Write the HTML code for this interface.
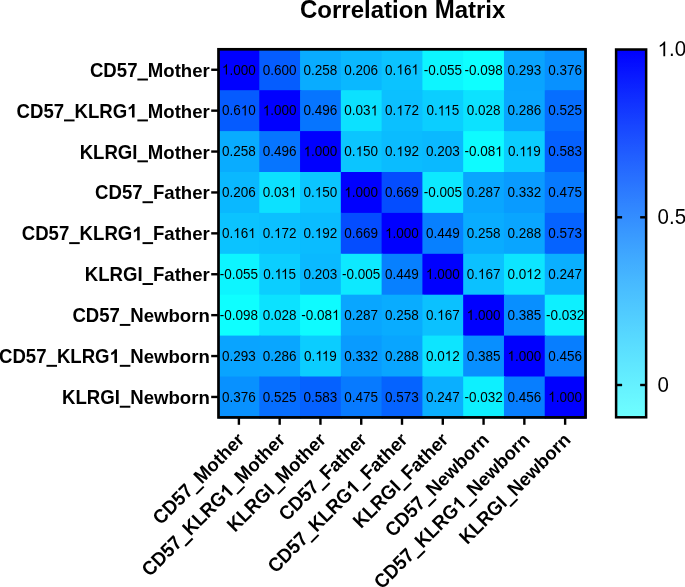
<!DOCTYPE html>
<html><head><meta charset="utf-8"><style>
html,body{margin:0;padding:0;background:#fff;}
body{width:685px;height:587px;overflow:hidden;}
svg{display:block;will-change:transform;}
text{font-family:"Liberation Sans",sans-serif;fill:#000;}
.n{font-size:13.5px;}
.l{font-size:18.6px;font-weight:bold;}
.c{font-size:20.5px;}
.t{font-size:24px;font-weight:bold;}
</style></head><body>
<svg width="685" height="587" viewBox="0 0 685 587">
<defs><path id="o1" d="M763 0H583V-1147Q518 -1085 415 -1024.5Q312 -964 223 -931V-1105Q373 -1176 485.5 -1276Q598 -1376 647 -1472H763Z"/><path id="o1b" d="M815 0H534V-1059Q380 -915 171 -846V-1101Q281 -1137 400.5 -1230Q520 -1323 575 -1466H815Z"/><linearGradient id="g" x1="0" y1="0" x2="0" y2="1"><stop offset="0" stop-color="#0000ff"/><stop offset="1" stop-color="#0effff"/></linearGradient><linearGradient id="w" x1="0" y1="0" x2="0" y2="1"><stop offset="0" stop-color="#fff" stop-opacity="0"/><stop offset="1" stop-color="#fff" stop-opacity="0.4"/></linearGradient></defs>
<rect x="218.50" y="49.30" width="41.98" height="42.10" fill="#0000ff"/>
<rect x="259.28" y="49.30" width="41.98" height="42.10" fill="#055dff"/>
<rect x="300.06" y="49.30" width="41.98" height="42.10" fill="#09acff"/>
<rect x="340.84" y="49.30" width="41.98" height="42.10" fill="#0ab8ff"/>
<rect x="381.62" y="49.30" width="41.98" height="42.10" fill="#0bc3ff"/>
<rect x="422.40" y="49.30" width="41.98" height="42.10" fill="#0df5ff"/>
<rect x="463.18" y="49.30" width="41.98" height="42.10" fill="#0effff"/>
<rect x="503.96" y="49.30" width="41.98" height="42.10" fill="#09a4ff"/>
<rect x="544.74" y="49.30" width="41.98" height="42.10" fill="#0891ff"/>
<rect x="218.50" y="90.20" width="41.98" height="42.10" fill="#055bff"/>
<rect x="259.28" y="90.20" width="41.98" height="42.10" fill="#0000ff"/>
<rect x="300.06" y="90.20" width="41.98" height="42.10" fill="#0675ff"/>
<rect x="340.84" y="90.20" width="41.98" height="42.10" fill="#0ce1ff"/>
<rect x="381.62" y="90.20" width="41.98" height="42.10" fill="#0bc0ff"/>
<rect x="422.40" y="90.20" width="41.98" height="42.10" fill="#0bceff"/>
<rect x="463.18" y="90.20" width="41.98" height="42.10" fill="#0ce2ff"/>
<rect x="503.96" y="90.20" width="41.98" height="42.10" fill="#09a6ff"/>
<rect x="544.74" y="90.20" width="41.98" height="42.10" fill="#066eff"/>
<rect x="218.50" y="131.10" width="41.98" height="42.10" fill="#09acff"/>
<rect x="259.28" y="131.10" width="41.98" height="42.10" fill="#0675ff"/>
<rect x="300.06" y="131.10" width="41.98" height="42.10" fill="#0000ff"/>
<rect x="340.84" y="131.10" width="41.98" height="42.10" fill="#0bc5ff"/>
<rect x="381.62" y="131.10" width="41.98" height="42.10" fill="#0abcff"/>
<rect x="422.40" y="131.10" width="41.98" height="42.10" fill="#0ab9ff"/>
<rect x="463.18" y="131.10" width="41.98" height="42.10" fill="#0efbff"/>
<rect x="503.96" y="131.10" width="41.98" height="42.10" fill="#0bcdff"/>
<rect x="544.74" y="131.10" width="41.98" height="42.10" fill="#0561ff"/>
<rect x="218.50" y="172.00" width="41.98" height="42.10" fill="#0ab8ff"/>
<rect x="259.28" y="172.00" width="41.98" height="42.10" fill="#0ce1ff"/>
<rect x="300.06" y="172.00" width="41.98" height="42.10" fill="#0bc5ff"/>
<rect x="340.84" y="172.00" width="41.98" height="42.10" fill="#0000ff"/>
<rect x="381.62" y="172.00" width="41.98" height="42.10" fill="#044dff"/>
<rect x="422.40" y="172.00" width="41.98" height="42.10" fill="#0de9ff"/>
<rect x="463.18" y="172.00" width="41.98" height="42.10" fill="#09a6ff"/>
<rect x="503.96" y="172.00" width="41.98" height="42.10" fill="#099bff"/>
<rect x="544.74" y="172.00" width="41.98" height="42.10" fill="#077aff"/>
<rect x="218.50" y="212.90" width="41.98" height="42.10" fill="#0bc3ff"/>
<rect x="259.28" y="212.90" width="41.98" height="42.10" fill="#0bc0ff"/>
<rect x="300.06" y="212.90" width="41.98" height="42.10" fill="#0abcff"/>
<rect x="340.84" y="212.90" width="41.98" height="42.10" fill="#044dff"/>
<rect x="381.62" y="212.90" width="41.98" height="42.10" fill="#0000ff"/>
<rect x="422.40" y="212.90" width="41.98" height="42.10" fill="#0780ff"/>
<rect x="463.18" y="212.90" width="41.98" height="42.10" fill="#09acff"/>
<rect x="503.96" y="212.90" width="41.98" height="42.10" fill="#09a5ff"/>
<rect x="544.74" y="212.90" width="41.98" height="42.10" fill="#0563ff"/>
<rect x="218.50" y="253.80" width="41.98" height="42.10" fill="#0df5ff"/>
<rect x="259.28" y="253.80" width="41.98" height="42.10" fill="#0bceff"/>
<rect x="300.06" y="253.80" width="41.98" height="42.10" fill="#0ab9ff"/>
<rect x="340.84" y="253.80" width="41.98" height="42.10" fill="#0de9ff"/>
<rect x="381.62" y="253.80" width="41.98" height="42.10" fill="#0780ff"/>
<rect x="422.40" y="253.80" width="41.98" height="42.10" fill="#0000ff"/>
<rect x="463.18" y="253.80" width="41.98" height="42.10" fill="#0bc1ff"/>
<rect x="503.96" y="253.80" width="41.98" height="42.10" fill="#0de5ff"/>
<rect x="544.74" y="253.80" width="41.98" height="42.10" fill="#0aafff"/>
<rect x="218.50" y="294.70" width="41.98" height="42.10" fill="#0effff"/>
<rect x="259.28" y="294.70" width="41.98" height="42.10" fill="#0ce2ff"/>
<rect x="300.06" y="294.70" width="41.98" height="42.10" fill="#0efbff"/>
<rect x="340.84" y="294.70" width="41.98" height="42.10" fill="#09a6ff"/>
<rect x="381.62" y="294.70" width="41.98" height="42.10" fill="#09acff"/>
<rect x="422.40" y="294.70" width="41.98" height="42.10" fill="#0bc1ff"/>
<rect x="463.18" y="294.70" width="41.98" height="42.10" fill="#0000ff"/>
<rect x="503.96" y="294.70" width="41.98" height="42.10" fill="#088fff"/>
<rect x="544.74" y="294.70" width="41.98" height="42.10" fill="#0df0ff"/>
<rect x="218.50" y="335.60" width="41.98" height="42.10" fill="#09a4ff"/>
<rect x="259.28" y="335.60" width="41.98" height="42.10" fill="#09a6ff"/>
<rect x="300.06" y="335.60" width="41.98" height="42.10" fill="#0bcdff"/>
<rect x="340.84" y="335.60" width="41.98" height="42.10" fill="#099bff"/>
<rect x="381.62" y="335.60" width="41.98" height="42.10" fill="#09a5ff"/>
<rect x="422.40" y="335.60" width="41.98" height="42.10" fill="#0de5ff"/>
<rect x="463.18" y="335.60" width="41.98" height="42.10" fill="#088fff"/>
<rect x="503.96" y="335.60" width="41.98" height="42.10" fill="#0000ff"/>
<rect x="544.74" y="335.60" width="41.98" height="42.10" fill="#077eff"/>
<rect x="218.50" y="376.50" width="41.98" height="42.10" fill="#0891ff"/>
<rect x="259.28" y="376.50" width="41.98" height="42.10" fill="#066eff"/>
<rect x="300.06" y="376.50" width="41.98" height="42.10" fill="#0561ff"/>
<rect x="340.84" y="376.50" width="41.98" height="42.10" fill="#077aff"/>
<rect x="381.62" y="376.50" width="41.98" height="42.10" fill="#0563ff"/>
<rect x="422.40" y="376.50" width="41.98" height="42.10" fill="#0aafff"/>
<rect x="463.18" y="376.50" width="41.98" height="42.10" fill="#0df0ff"/>
<rect x="503.96" y="376.50" width="41.98" height="42.10" fill="#077eff"/>
<rect x="544.74" y="376.50" width="41.98" height="42.10" fill="#0000ff"/>
<rect x="218.5" y="49.3" width="367.02" height="368.10" fill="none" stroke="#000" stroke-width="2.7"/>
<line x1="211.2" y1="69.75" x2="218" y2="69.75" stroke="#000" stroke-width="2.4"/>
<line x1="211.2" y1="110.65" x2="218" y2="110.65" stroke="#000" stroke-width="2.4"/>
<line x1="211.2" y1="151.55" x2="218" y2="151.55" stroke="#000" stroke-width="2.4"/>
<line x1="211.2" y1="192.45" x2="218" y2="192.45" stroke="#000" stroke-width="2.4"/>
<line x1="211.2" y1="233.35" x2="218" y2="233.35" stroke="#000" stroke-width="2.4"/>
<line x1="211.2" y1="274.25" x2="218" y2="274.25" stroke="#000" stroke-width="2.4"/>
<line x1="211.2" y1="315.15" x2="218" y2="315.15" stroke="#000" stroke-width="2.4"/>
<line x1="211.2" y1="356.05" x2="218" y2="356.05" stroke="#000" stroke-width="2.4"/>
<line x1="211.2" y1="396.95" x2="218" y2="396.95" stroke="#000" stroke-width="2.4"/>
<line x1="238.89" y1="418" x2="238.89" y2="424.8" stroke="#000" stroke-width="2.4"/>
<line x1="279.67" y1="418" x2="279.67" y2="424.8" stroke="#000" stroke-width="2.4"/>
<line x1="320.45" y1="418" x2="320.45" y2="424.8" stroke="#000" stroke-width="2.4"/>
<line x1="361.23" y1="418" x2="361.23" y2="424.8" stroke="#000" stroke-width="2.4"/>
<line x1="402.01" y1="418" x2="402.01" y2="424.8" stroke="#000" stroke-width="2.4"/>
<line x1="442.79" y1="418" x2="442.79" y2="424.8" stroke="#000" stroke-width="2.4"/>
<line x1="483.57" y1="418" x2="483.57" y2="424.8" stroke="#000" stroke-width="2.4"/>
<line x1="524.35" y1="418" x2="524.35" y2="424.8" stroke="#000" stroke-width="2.4"/>
<line x1="565.13" y1="418" x2="565.13" y2="424.8" stroke="#000" stroke-width="2.4"/>
<rect x="616.1" y="49.5" width="30.05" height="367.8" fill="url(#g)"/>
<rect x="616.1" y="49.5" width="30.05" height="367.8" fill="url(#w)" stroke="#000" stroke-width="2.5"/>
<line x1="616.1" y1="217.3" x2="622.1" y2="217.3" stroke="#000" stroke-width="2.4"/>
<line x1="640.15" y1="217.3" x2="646.15" y2="217.3" stroke="#000" stroke-width="2.4"/>
<line x1="616.1" y1="385.0" x2="622.1" y2="385.0" stroke="#000" stroke-width="2.4"/>
<line x1="640.15" y1="385.0" x2="646.15" y2="385.0" stroke="#000" stroke-width="2.4"/>
<g transform="translate(238.89,74.50)"><use href="#o1" transform="translate(-16.90,0.00) scale(0.006592,0.006902)"/><text class="n" transform="translate(-9.40,0.00) scale(1,1.09)">.000</text></g>
<g transform="translate(279.67,74.50)"><text class="n" transform="translate(-16.90,0.00) scale(1,1.09)">0.600</text></g>
<g transform="translate(320.45,74.50)"><text class="n" transform="translate(-16.90,0.00) scale(1,1.09)">0.258</text></g>
<g transform="translate(361.23,74.50)"><text class="n" transform="translate(-16.90,0.00) scale(1,1.09)">0.206</text></g>
<g transform="translate(402.01,74.50)"><text class="n" transform="translate(-16.90,0.00) scale(1,1.09)">0.</text><use href="#o1" transform="translate(-5.65,0.00) scale(0.006592,0.006902)"/><text class="n" transform="translate(1.87,0.00) scale(1,1.09)">6</text><use href="#o1" transform="translate(9.37,0.00) scale(0.006592,0.006902)"/></g>
<g transform="translate(442.79,74.50)"><text class="n" transform="translate(-19.14,0.00) scale(1,1.09)">-0.055</text></g>
<g transform="translate(483.57,74.50)"><text class="n" transform="translate(-19.14,0.00) scale(1,1.09)">-0.098</text></g>
<g transform="translate(524.35,74.50)"><text class="n" transform="translate(-16.90,0.00) scale(1,1.09)">0.293</text></g>
<g transform="translate(565.13,74.50)"><text class="n" transform="translate(-16.90,0.00) scale(1,1.09)">0.376</text></g>
<g transform="translate(238.89,115.40)"><text class="n" transform="translate(-16.90,0.00) scale(1,1.09)">0.6</text><use href="#o1" transform="translate(1.87,0.00) scale(0.006592,0.006902)"/><text class="n" transform="translate(9.37,0.00) scale(1,1.09)">0</text></g>
<g transform="translate(279.67,115.40)"><use href="#o1" transform="translate(-16.90,0.00) scale(0.006592,0.006902)"/><text class="n" transform="translate(-9.40,0.00) scale(1,1.09)">.000</text></g>
<g transform="translate(320.45,115.40)"><text class="n" transform="translate(-16.90,0.00) scale(1,1.09)">0.496</text></g>
<g transform="translate(361.23,115.40)"><text class="n" transform="translate(-16.90,0.00) scale(1,1.09)">0.03</text><use href="#o1" transform="translate(9.37,0.00) scale(0.006592,0.006902)"/></g>
<g transform="translate(402.01,115.40)"><text class="n" transform="translate(-16.90,0.00) scale(1,1.09)">0.</text><use href="#o1" transform="translate(-5.65,0.00) scale(0.006592,0.006902)"/><text class="n" transform="translate(1.87,0.00) scale(1,1.09)">72</text></g>
<g transform="translate(442.79,115.40)"><text class="n" transform="translate(-16.39,0.00) scale(1,1.09)">0.</text><use href="#o1" transform="translate(-5.14,0.00) scale(0.006592,0.006902)"/><use href="#o1" transform="translate(1.36,0.00) scale(0.006592,0.006902)"/><text class="n" transform="translate(8.88,0.00) scale(1,1.09)">5</text></g>
<g transform="translate(483.57,115.40)"><text class="n" transform="translate(-16.90,0.00) scale(1,1.09)">0.028</text></g>
<g transform="translate(524.35,115.40)"><text class="n" transform="translate(-16.90,0.00) scale(1,1.09)">0.286</text></g>
<g transform="translate(565.13,115.40)"><text class="n" transform="translate(-16.90,0.00) scale(1,1.09)">0.525</text></g>
<g transform="translate(238.89,156.30)"><text class="n" transform="translate(-16.90,0.00) scale(1,1.09)">0.258</text></g>
<g transform="translate(279.67,156.30)"><text class="n" transform="translate(-16.90,0.00) scale(1,1.09)">0.496</text></g>
<g transform="translate(320.45,156.30)"><use href="#o1" transform="translate(-16.90,0.00) scale(0.006592,0.006902)"/><text class="n" transform="translate(-9.40,0.00) scale(1,1.09)">.000</text></g>
<g transform="translate(361.23,156.30)"><text class="n" transform="translate(-16.90,0.00) scale(1,1.09)">0.</text><use href="#o1" transform="translate(-5.65,0.00) scale(0.006592,0.006902)"/><text class="n" transform="translate(1.87,0.00) scale(1,1.09)">50</text></g>
<g transform="translate(402.01,156.30)"><text class="n" transform="translate(-16.90,0.00) scale(1,1.09)">0.</text><use href="#o1" transform="translate(-5.65,0.00) scale(0.006592,0.006902)"/><text class="n" transform="translate(1.87,0.00) scale(1,1.09)">92</text></g>
<g transform="translate(442.79,156.30)"><text class="n" transform="translate(-16.90,0.00) scale(1,1.09)">0.203</text></g>
<g transform="translate(483.57,156.30)"><text class="n" transform="translate(-19.14,0.00) scale(1,1.09)">-0.08</text><use href="#o1" transform="translate(11.62,0.00) scale(0.006592,0.006902)"/></g>
<g transform="translate(524.35,156.30)"><text class="n" transform="translate(-16.39,0.00) scale(1,1.09)">0.</text><use href="#o1" transform="translate(-5.14,0.00) scale(0.006592,0.006902)"/><use href="#o1" transform="translate(1.36,0.00) scale(0.006592,0.006902)"/><text class="n" transform="translate(8.88,0.00) scale(1,1.09)">9</text></g>
<g transform="translate(565.13,156.30)"><text class="n" transform="translate(-16.90,0.00) scale(1,1.09)">0.583</text></g>
<g transform="translate(238.89,197.20)"><text class="n" transform="translate(-16.90,0.00) scale(1,1.09)">0.206</text></g>
<g transform="translate(279.67,197.20)"><text class="n" transform="translate(-16.90,0.00) scale(1,1.09)">0.03</text><use href="#o1" transform="translate(9.37,0.00) scale(0.006592,0.006902)"/></g>
<g transform="translate(320.45,197.20)"><text class="n" transform="translate(-16.90,0.00) scale(1,1.09)">0.</text><use href="#o1" transform="translate(-5.65,0.00) scale(0.006592,0.006902)"/><text class="n" transform="translate(1.87,0.00) scale(1,1.09)">50</text></g>
<g transform="translate(361.23,197.20)"><use href="#o1" transform="translate(-16.90,0.00) scale(0.006592,0.006902)"/><text class="n" transform="translate(-9.40,0.00) scale(1,1.09)">.000</text></g>
<g transform="translate(402.01,197.20)"><text class="n" transform="translate(-16.90,0.00) scale(1,1.09)">0.669</text></g>
<g transform="translate(442.79,197.20)"><text class="n" transform="translate(-19.14,0.00) scale(1,1.09)">-0.005</text></g>
<g transform="translate(483.57,197.20)"><text class="n" transform="translate(-16.90,0.00) scale(1,1.09)">0.287</text></g>
<g transform="translate(524.35,197.20)"><text class="n" transform="translate(-16.90,0.00) scale(1,1.09)">0.332</text></g>
<g transform="translate(565.13,197.20)"><text class="n" transform="translate(-16.90,0.00) scale(1,1.09)">0.475</text></g>
<g transform="translate(238.89,238.10)"><text class="n" transform="translate(-16.90,0.00) scale(1,1.09)">0.</text><use href="#o1" transform="translate(-5.65,0.00) scale(0.006592,0.006902)"/><text class="n" transform="translate(1.87,0.00) scale(1,1.09)">6</text><use href="#o1" transform="translate(9.37,0.00) scale(0.006592,0.006902)"/></g>
<g transform="translate(279.67,238.10)"><text class="n" transform="translate(-16.90,0.00) scale(1,1.09)">0.</text><use href="#o1" transform="translate(-5.65,0.00) scale(0.006592,0.006902)"/><text class="n" transform="translate(1.87,0.00) scale(1,1.09)">72</text></g>
<g transform="translate(320.45,238.10)"><text class="n" transform="translate(-16.90,0.00) scale(1,1.09)">0.</text><use href="#o1" transform="translate(-5.65,0.00) scale(0.006592,0.006902)"/><text class="n" transform="translate(1.87,0.00) scale(1,1.09)">92</text></g>
<g transform="translate(361.23,238.10)"><text class="n" transform="translate(-16.90,0.00) scale(1,1.09)">0.669</text></g>
<g transform="translate(402.01,238.10)"><use href="#o1" transform="translate(-16.90,0.00) scale(0.006592,0.006902)"/><text class="n" transform="translate(-9.40,0.00) scale(1,1.09)">.000</text></g>
<g transform="translate(442.79,238.10)"><text class="n" transform="translate(-16.90,0.00) scale(1,1.09)">0.449</text></g>
<g transform="translate(483.57,238.10)"><text class="n" transform="translate(-16.90,0.00) scale(1,1.09)">0.258</text></g>
<g transform="translate(524.35,238.10)"><text class="n" transform="translate(-16.90,0.00) scale(1,1.09)">0.288</text></g>
<g transform="translate(565.13,238.10)"><text class="n" transform="translate(-16.90,0.00) scale(1,1.09)">0.573</text></g>
<g transform="translate(238.89,279.00)"><text class="n" transform="translate(-19.14,0.00) scale(1,1.09)">-0.055</text></g>
<g transform="translate(279.67,279.00)"><text class="n" transform="translate(-16.39,0.00) scale(1,1.09)">0.</text><use href="#o1" transform="translate(-5.14,0.00) scale(0.006592,0.006902)"/><use href="#o1" transform="translate(1.36,0.00) scale(0.006592,0.006902)"/><text class="n" transform="translate(8.88,0.00) scale(1,1.09)">5</text></g>
<g transform="translate(320.45,279.00)"><text class="n" transform="translate(-16.90,0.00) scale(1,1.09)">0.203</text></g>
<g transform="translate(361.23,279.00)"><text class="n" transform="translate(-19.14,0.00) scale(1,1.09)">-0.005</text></g>
<g transform="translate(402.01,279.00)"><text class="n" transform="translate(-16.90,0.00) scale(1,1.09)">0.449</text></g>
<g transform="translate(442.79,279.00)"><use href="#o1" transform="translate(-16.90,0.00) scale(0.006592,0.006902)"/><text class="n" transform="translate(-9.40,0.00) scale(1,1.09)">.000</text></g>
<g transform="translate(483.57,279.00)"><text class="n" transform="translate(-16.90,0.00) scale(1,1.09)">0.</text><use href="#o1" transform="translate(-5.65,0.00) scale(0.006592,0.006902)"/><text class="n" transform="translate(1.87,0.00) scale(1,1.09)">67</text></g>
<g transform="translate(524.35,279.00)"><text class="n" transform="translate(-16.90,0.00) scale(1,1.09)">0.0</text><use href="#o1" transform="translate(1.87,0.00) scale(0.006592,0.006902)"/><text class="n" transform="translate(9.37,0.00) scale(1,1.09)">2</text></g>
<g transform="translate(565.13,279.00)"><text class="n" transform="translate(-16.90,0.00) scale(1,1.09)">0.247</text></g>
<g transform="translate(238.89,319.90)"><text class="n" transform="translate(-19.14,0.00) scale(1,1.09)">-0.098</text></g>
<g transform="translate(279.67,319.90)"><text class="n" transform="translate(-16.90,0.00) scale(1,1.09)">0.028</text></g>
<g transform="translate(320.45,319.90)"><text class="n" transform="translate(-19.14,0.00) scale(1,1.09)">-0.08</text><use href="#o1" transform="translate(11.62,0.00) scale(0.006592,0.006902)"/></g>
<g transform="translate(361.23,319.90)"><text class="n" transform="translate(-16.90,0.00) scale(1,1.09)">0.287</text></g>
<g transform="translate(402.01,319.90)"><text class="n" transform="translate(-16.90,0.00) scale(1,1.09)">0.258</text></g>
<g transform="translate(442.79,319.90)"><text class="n" transform="translate(-16.90,0.00) scale(1,1.09)">0.</text><use href="#o1" transform="translate(-5.65,0.00) scale(0.006592,0.006902)"/><text class="n" transform="translate(1.87,0.00) scale(1,1.09)">67</text></g>
<g transform="translate(483.57,319.90)"><use href="#o1" transform="translate(-16.90,0.00) scale(0.006592,0.006902)"/><text class="n" transform="translate(-9.40,0.00) scale(1,1.09)">.000</text></g>
<g transform="translate(524.35,319.90)"><text class="n" transform="translate(-16.90,0.00) scale(1,1.09)">0.385</text></g>
<g transform="translate(565.13,319.90)"><text class="n" transform="translate(-19.14,0.00) scale(1,1.09)">-0.032</text></g>
<g transform="translate(238.89,360.80)"><text class="n" transform="translate(-16.90,0.00) scale(1,1.09)">0.293</text></g>
<g transform="translate(279.67,360.80)"><text class="n" transform="translate(-16.90,0.00) scale(1,1.09)">0.286</text></g>
<g transform="translate(320.45,360.80)"><text class="n" transform="translate(-16.39,0.00) scale(1,1.09)">0.</text><use href="#o1" transform="translate(-5.14,0.00) scale(0.006592,0.006902)"/><use href="#o1" transform="translate(1.36,0.00) scale(0.006592,0.006902)"/><text class="n" transform="translate(8.88,0.00) scale(1,1.09)">9</text></g>
<g transform="translate(361.23,360.80)"><text class="n" transform="translate(-16.90,0.00) scale(1,1.09)">0.332</text></g>
<g transform="translate(402.01,360.80)"><text class="n" transform="translate(-16.90,0.00) scale(1,1.09)">0.288</text></g>
<g transform="translate(442.79,360.80)"><text class="n" transform="translate(-16.90,0.00) scale(1,1.09)">0.0</text><use href="#o1" transform="translate(1.87,0.00) scale(0.006592,0.006902)"/><text class="n" transform="translate(9.37,0.00) scale(1,1.09)">2</text></g>
<g transform="translate(483.57,360.80)"><text class="n" transform="translate(-16.90,0.00) scale(1,1.09)">0.385</text></g>
<g transform="translate(524.35,360.80)"><use href="#o1" transform="translate(-16.90,0.00) scale(0.006592,0.006902)"/><text class="n" transform="translate(-9.40,0.00) scale(1,1.09)">.000</text></g>
<g transform="translate(565.13,360.80)"><text class="n" transform="translate(-16.90,0.00) scale(1,1.09)">0.456</text></g>
<g transform="translate(238.89,401.70)"><text class="n" transform="translate(-16.90,0.00) scale(1,1.09)">0.376</text></g>
<g transform="translate(279.67,401.70)"><text class="n" transform="translate(-16.90,0.00) scale(1,1.09)">0.525</text></g>
<g transform="translate(320.45,401.70)"><text class="n" transform="translate(-16.90,0.00) scale(1,1.09)">0.583</text></g>
<g transform="translate(361.23,401.70)"><text class="n" transform="translate(-16.90,0.00) scale(1,1.09)">0.475</text></g>
<g transform="translate(402.01,401.70)"><text class="n" transform="translate(-16.90,0.00) scale(1,1.09)">0.573</text></g>
<g transform="translate(442.79,401.70)"><text class="n" transform="translate(-16.90,0.00) scale(1,1.09)">0.247</text></g>
<g transform="translate(483.57,401.70)"><text class="n" transform="translate(-19.14,0.00) scale(1,1.09)">-0.032</text></g>
<g transform="translate(524.35,401.70)"><text class="n" transform="translate(-16.90,0.00) scale(1,1.09)">0.456</text></g>
<g transform="translate(565.13,401.70)"><use href="#o1" transform="translate(-16.90,0.00) scale(0.006592,0.006902)"/><text class="n" transform="translate(-9.40,0.00) scale(1,1.09)">.000</text></g>
<g transform="translate(209.8,76.70)"><text class="l" transform="translate(-119.86,0.00) scale(1,1.065)">CD57</text><rect x="-72.43" y="1.85" width="10.56" height="1.95"/><text class="l" transform="translate(-61.98,0.00) scale(1,1.065)">M</text><text class="l" transform="translate(-46.50,0.00)">other</text></g>
<g transform="translate(209.8,117.60)"><text class="l" transform="translate(-193.22,0.00) scale(1,1.065)">CD57</text><rect x="-145.79" y="1.85" width="10.56" height="1.95"/><text class="l" transform="translate(-135.34,0.00) scale(1,1.065)">KLRG</text><use href="#o1b" transform="translate(-82.67,0.00) scale(0.009082,0.009309)"/><rect x="-72.43" y="1.85" width="10.56" height="1.95"/><text class="l" transform="translate(-61.98,0.00) scale(1,1.065)">M</text><text class="l" transform="translate(-46.50,0.00)">other</text></g>
<g transform="translate(209.8,158.50)"><text class="l" transform="translate(-130.16,0.00) scale(1,1.065)">KLRGI</text><rect x="-72.43" y="1.85" width="10.56" height="1.95"/><text class="l" transform="translate(-61.98,0.00) scale(1,1.065)">M</text><text class="l" transform="translate(-46.48,0.00)">other</text></g>
<g transform="translate(209.8,199.40)"><text class="l" transform="translate(-114.72,0.00) scale(1,1.065)">CD57</text><rect x="-67.29" y="1.85" width="10.56" height="1.95"/><text class="l" transform="translate(-56.84,0.00) scale(1,1.065)">F</text><text class="l" transform="translate(-45.48,0.00)">ather</text></g>
<g transform="translate(209.8,240.30)"><text class="l" transform="translate(-188.06,0.00) scale(1,1.065)">CD57</text><rect x="-140.63" y="1.85" width="10.56" height="1.95"/><text class="l" transform="translate(-130.19,0.00) scale(1,1.065)">KLRG</text><use href="#o1b" transform="translate(-77.52,0.00) scale(0.009082,0.009309)"/><rect x="-67.27" y="1.85" width="10.56" height="1.95"/><text class="l" transform="translate(-56.83,0.00) scale(1,1.065)">F</text><text class="l" transform="translate(-45.47,0.00)">ather</text></g>
<g transform="translate(209.8,281.20)"><text class="l" transform="translate(-125.02,0.00) scale(1,1.065)">KLRGI</text><rect x="-67.29" y="1.85" width="10.56" height="1.95"/><text class="l" transform="translate(-56.84,0.00) scale(1,1.065)">F</text><text class="l" transform="translate(-45.48,0.00)">ather</text></g>
<g transform="translate(209.8,322.10)"><text class="l" transform="translate(-137.42,0.00) scale(1,1.065)">CD57</text><rect x="-89.99" y="1.85" width="10.56" height="1.95"/><text class="l" transform="translate(-79.55,0.00) scale(1,1.065)">N</text><text class="l" transform="translate(-66.12,0.00)">ewborn</text></g>
<g transform="translate(209.8,363.00)"><text class="l" transform="translate(-210.78,0.00) scale(1,1.065)">CD57</text><rect x="-163.35" y="1.85" width="10.56" height="1.95"/><text class="l" transform="translate(-152.91,0.00) scale(1,1.065)">KLRG</text><use href="#o1b" transform="translate(-100.23,0.00) scale(0.009082,0.009309)"/><rect x="-89.99" y="1.85" width="10.56" height="1.95"/><text class="l" transform="translate(-79.55,0.00) scale(1,1.065)">N</text><text class="l" transform="translate(-66.12,0.00)">ewborn</text></g>
<g transform="translate(209.8,403.90)"><text class="l" transform="translate(-147.73,0.00) scale(1,1.065)">KLRGI</text><rect x="-90.01" y="1.85" width="10.56" height="1.95"/><text class="l" transform="translate(-79.56,0.00) scale(1,1.065)">N</text><text class="l" transform="translate(-66.12,0.00)">ewborn</text></g>
<g transform="translate(245.49,440.9) rotate(-45)"><text class="l" transform="translate(-119.86,0.00) scale(1,1.065)">CD57</text><rect x="-72.43" y="1.85" width="10.56" height="1.95"/><text class="l" transform="translate(-61.98,0.00) scale(1,1.065)">M</text><text class="l" transform="translate(-46.50,0.00)">other</text></g>
<g transform="translate(286.27,440.9) rotate(-45)"><text class="l" transform="translate(-193.22,0.00) scale(1,1.065)">CD57</text><rect x="-145.79" y="1.85" width="10.56" height="1.95"/><text class="l" transform="translate(-135.34,0.00) scale(1,1.065)">KLRG</text><use href="#o1b" transform="translate(-82.67,0.00) scale(0.009082,0.009309)"/><rect x="-72.43" y="1.85" width="10.56" height="1.95"/><text class="l" transform="translate(-61.98,0.00) scale(1,1.065)">M</text><text class="l" transform="translate(-46.50,0.00)">other</text></g>
<g transform="translate(327.05,440.9) rotate(-45)"><text class="l" transform="translate(-130.16,0.00) scale(1,1.065)">KLRGI</text><rect x="-72.43" y="1.85" width="10.56" height="1.95"/><text class="l" transform="translate(-61.98,0.00) scale(1,1.065)">M</text><text class="l" transform="translate(-46.48,0.00)">other</text></g>
<g transform="translate(367.83,440.9) rotate(-45)"><text class="l" transform="translate(-114.72,0.00) scale(1,1.065)">CD57</text><rect x="-67.29" y="1.85" width="10.56" height="1.95"/><text class="l" transform="translate(-56.84,0.00) scale(1,1.065)">F</text><text class="l" transform="translate(-45.48,0.00)">ather</text></g>
<g transform="translate(408.61,440.9) rotate(-45)"><text class="l" transform="translate(-188.06,0.00) scale(1,1.065)">CD57</text><rect x="-140.63" y="1.85" width="10.56" height="1.95"/><text class="l" transform="translate(-130.19,0.00) scale(1,1.065)">KLRG</text><use href="#o1b" transform="translate(-77.52,0.00) scale(0.009082,0.009309)"/><rect x="-67.27" y="1.85" width="10.56" height="1.95"/><text class="l" transform="translate(-56.83,0.00) scale(1,1.065)">F</text><text class="l" transform="translate(-45.47,0.00)">ather</text></g>
<g transform="translate(449.39,440.9) rotate(-45)"><text class="l" transform="translate(-125.02,0.00) scale(1,1.065)">KLRGI</text><rect x="-67.29" y="1.85" width="10.56" height="1.95"/><text class="l" transform="translate(-56.84,0.00) scale(1,1.065)">F</text><text class="l" transform="translate(-45.48,0.00)">ather</text></g>
<g transform="translate(490.17,440.9) rotate(-45)"><text class="l" transform="translate(-137.42,0.00) scale(1,1.065)">CD57</text><rect x="-89.99" y="1.85" width="10.56" height="1.95"/><text class="l" transform="translate(-79.55,0.00) scale(1,1.065)">N</text><text class="l" transform="translate(-66.12,0.00)">ewborn</text></g>
<g transform="translate(530.95,440.9) rotate(-45)"><text class="l" transform="translate(-210.78,0.00) scale(1,1.065)">CD57</text><rect x="-163.35" y="1.85" width="10.56" height="1.95"/><text class="l" transform="translate(-152.91,0.00) scale(1,1.065)">KLRG</text><use href="#o1b" transform="translate(-100.23,0.00) scale(0.009082,0.009309)"/><rect x="-89.99" y="1.85" width="10.56" height="1.95"/><text class="l" transform="translate(-79.55,0.00) scale(1,1.065)">N</text><text class="l" transform="translate(-66.12,0.00)">ewborn</text></g>
<g transform="translate(571.73,440.9) rotate(-45)"><text class="l" transform="translate(-147.73,0.00) scale(1,1.065)">KLRGI</text><rect x="-90.01" y="1.85" width="10.56" height="1.95"/><text class="l" transform="translate(-79.56,0.00) scale(1,1.065)">N</text><text class="l" transform="translate(-66.12,0.00)">ewborn</text></g>
<g transform="translate(657.55,56.2)"><use href="#o1" transform="translate(0.00,0.00) scale(0.010010,0.010010)"/><text class="c" transform="translate(11.39,0.00) scale(1,1.07)">.0</text></g>
<g transform="translate(657.55,223.9)"><text class="c" transform="translate(0.00,0.00) scale(1,1.07)">0.5</text></g>
<g transform="translate(657.55,391.6)"><text class="c" transform="translate(0.00,0.00) scale(1,1.07)">0</text></g>
<g transform="translate(300,17.7)"><text class="t" transform="translate(0.00,0.00) scale(1,1.06)">C</text><text class="t" transform="translate(17.33,0.00)">orrelation</text><text class="t" transform="translate(134.67,0.00) scale(1,1.06)">M</text><text class="t" transform="translate(154.67,0.00)">atrix</text></g>
</svg>
</body></html>
